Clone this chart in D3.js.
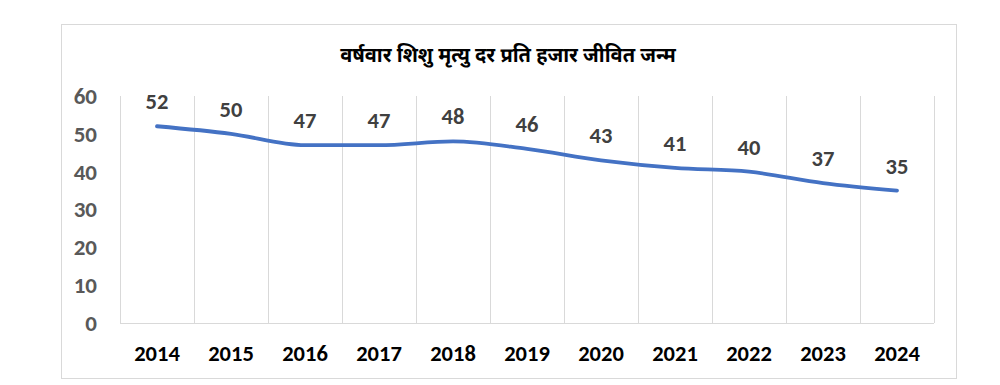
<!DOCTYPE html>
<html><head><meta charset="utf-8">
<script src="https://cdn.jsdelivr.net/npm/d3@7"></script>
<style>body{margin:0;background:#fff;}svg{display:block;}</style>
</head><body>
<svg id="c" width="1000" height="385"></svg>
<script>
const years = ["2014","2015","2016","2017","2018","2019","2020","2021","2022","2023","2024"];
const rates = [52,50,47,47,48,46,43,41,40,37,35];
const yTicks = [0,10,20,30,40,50,60];
const title = "वर्षवार शिशु मृत्यु दर प्रति हजार जीवित जन्म";

const svg = d3.select("#c");
const font = "Calibri, Carlito, 'Open Sans', 'Liberation Sans', sans-serif";
svg.append("rect").attr("x",61.5).attr("y",24.5).attr("width",895).attr("height",354)
  .attr("fill","#fff").attr("stroke","#d9d9d9").attr("stroke-width",1);

const x = d3.scaleBand().domain(years).range([120,934]).padding(0);
const y = d3.scaleLinear().domain([0,60]).range([323,96]);

// vertical gridlines at band boundaries
const bounds = years.map(d=>x(d)).concat([x.range()[1]]);
svg.append("g").selectAll("line").data(bounds).join("line")
  .attr("x1",d=>d+0.5).attr("x2",d=>d+0.5).attr("y1",y(60)).attr("y2",y(0))
  .attr("stroke","#d9d9d9").attr("stroke-width",1);
svg.append("line").attr("x1",120).attr("x2",934).attr("y1",y(0)+0.5).attr("y2",y(0)+0.5)
  .attr("stroke","#d9d9d9");

// y axis labels
const yAxis = d3.axisLeft(y).tickValues(yTicks).tickSize(0).tickPadding(0);
const gy = svg.append("g").attr("transform","translate(97,0)").call(yAxis);
gy.select(".domain").remove();
gy.selectAll("text").attr("font-family",font).attr("font-size",23).attr("font-weight","bold").attr("fill","#595959");

// x axis labels
const xAxis = d3.axisBottom(x).tickSize(0).tickPadding(0);
const gx = svg.append("g").attr("transform","translate(0,345)").call(xAxis);
gx.select(".domain").remove();
gx.selectAll("text").attr("font-family",font).attr("font-size",22.5).attr("font-weight","bold").attr("fill","#000");

// line
const cx = d=>x(d)+x.bandwidth()/2;
const line = d3.line().x((d,i)=>cx(years[i])).y(d=>y(d)).curve(d3.curveMonotoneX);
svg.append("path").datum(rates).attr("d",line).attr("fill","none")
  .attr("stroke","#4472C4").attr("stroke-width",3.8).attr("stroke-linecap","round");

// data labels
svg.append("g").selectAll("text").data(rates).join("text")
  .attr("x",(d,i)=>cx(years[i])).attr("y",d=>y(d)-17)
  .attr("text-anchor","middle").attr("font-family",font).attr("font-size",22.5)
  .attr("font-weight","bold").attr("fill","#404040").text(d=>d);

// title
svg.append("text").attr("x",508).attr("y",62).attr("text-anchor","middle")
  .attr("font-family","'Noto Sans Devanagari','Noto Sans', sans-serif").attr("font-size",20)
  .attr("font-weight","bold").attr("fill","#000").text(title);
</script>
</body></html>
